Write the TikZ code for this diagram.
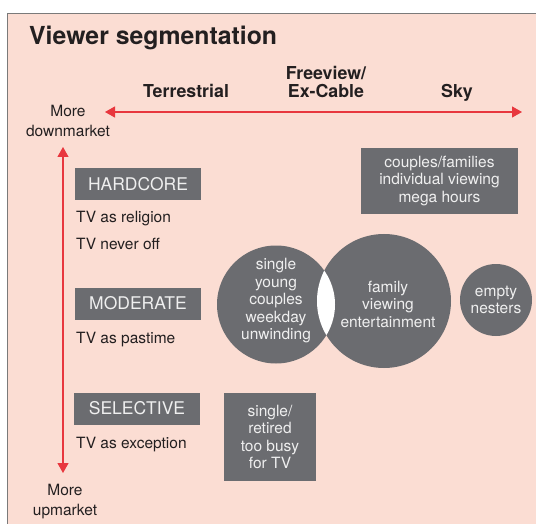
\documentclass[tikz,border=0pt]{standalone}
\usepackage{fontspec}
\setmainfont{TeX Gyre Heros}
\usetikzlibrary{arrows.meta, positioning}

\definecolor{segpink}{HTML}{FBDDD3}
\definecolor{seggray}{HTML}{6B6C70}
\definecolor{segred}{HTML}{E8373E}
\definecolor{segtext}{HTML}{231F20}
\definecolor{segframe}{HTML}{7A7A7A}
\definecolor{seglight}{HTML}{EFEFEF}

\begin{document}
\begin{tikzpicture}[
    x=1pt, y=-1pt,
    note/.style={font=\fontsize{15.5}{20}\selectfont, text=segtext, align=center, inner sep=0pt},
    head/.style={font=\fontsize{17.8}{18}\selectfont\bfseries, text=segtext, align=center, inner sep=0pt},
    tier/.style={fill=seggray, text=seglight, font=\fontsize{17.5}{18}\selectfont,
        minimum width=126pt, minimum height=32pt, inner sep=0pt},
    group/.style={fill=seggray, text=seglight, font=\fontsize{15.5}{17.5}\selectfont,
        align=center, inner sep=0pt},
    blob/.style={group, circle},
    axis/.style={draw=segred, line width=1.2pt, {Triangle[length=10pt, width=11pt]}-{Triangle[length=10pt, width=11pt]}}
]

\useasboundingbox (0,0) rectangle (536,524);

% panel
\fill[segpink] (7,14) rectangle (536,524);
\draw[segframe, line width=1pt] (7,524) -- (7,14) -- (536,14);

\node[font=\fontsize{24.8}{26}\selectfont\bfseries, text=segtext, inner sep=0pt, anchor=base west] (title) at (29,45) {Viewer segmentation};

% platform axis
\node[head, anchor=base] (terr) at (186,98) {Terrestrial};
\node[head, anchor=south] (freeview) at (326,98) {Freeview/\\Ex-Cable};
\node[head, anchor=base] (sky) at (457,98) {Sky};

\coordinate (hleft) at (105,112);
\coordinate (hright) at (522,112);
\draw[axis] (hleft) -- (hright);

% market axis
\node[note, anchor=south] (downmkt) at (68,137) {More\\downmarket};
\node[note] (upmkt) at (65,502) {More\\upmarket};

\coordinate (vtop) at (63,147);
\coordinate (vbottom) at (63,473);
\draw[axis] (vtop) -- (vbottom);

% viewing tiers
\node[tier] (hardcore) at (138,184) {HARDCORE};
\node[note, anchor=base west] (religion) at (76,222.5) {TV as religion};
\node[note, anchor=base west] (neveroff) at (76,249.5) {TV never off};

\node[tier] (moderate) at (138,303.5) {MODERATE};
\node[note, anchor=base west] (pastime) at (76,343.5) {TV as pastime};

\node[tier] (selective) at (137,408.5) {SELECTIVE};
\node[note, anchor=base west] (exception) at (76,448.5) {TV as exception};

% audience groups
\node[group, minimum width=157pt, minimum height=66pt] (couples) at (439.5,181)
    {couples/families\\individual viewing\\mega hours};

\node[blob, minimum size=118pt] (young) at (276,304.5) {};
\node[blob, minimum size=134pt] (family) at (384,301) {};
\begin{scope}
    \clip (young.center) circle[radius=59pt];
    \fill[white] (family.center) circle[radius=67pt];
\end{scope}
\node[note, text=seglight, font=\fontsize{15.5}{17.5}\selectfont] (younglbl) at (276,301)
    {single\\young\\couples\\weekday\\unwinding};
\node[note, text=seglight, font=\fontsize{15.5}{17.5}\selectfont] (familylbl) at (388,304)
    {family\\viewing\\entertainment};

\node[blob, minimum size=72pt] (nesters) at (496,300) {empty\\nesters};

\node[group, minimum width=92pt, minimum height=88pt] (busy) at (270,437)
    {single/\\retired\\too busy\\for TV};

\end{tikzpicture}
\end{document}
